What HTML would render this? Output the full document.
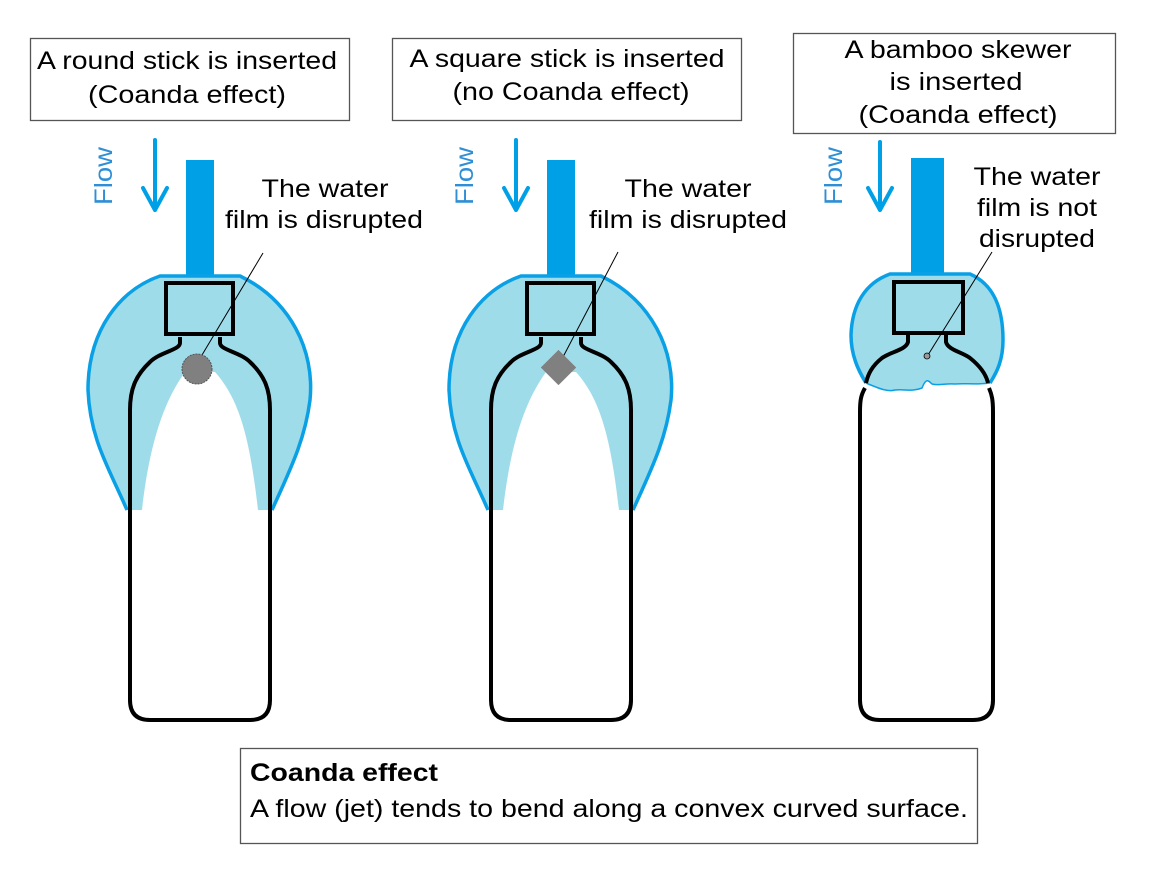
<!DOCTYPE html>
<html><head><meta charset="utf-8"><style>
html,body{margin:0;padding:0;background:#fff;}
svg{display:block;}
text{font-family:"Liberation Sans",Arial,sans-serif;}
</style></head><body>
<svg width="1155" height="869" viewBox="0 0 1155 869" xmlns="http://www.w3.org/2000/svg">
<!-- top boxes -->
<rect x="30.5" y="38.5" width="319" height="82" fill="#fff" stroke="#555" stroke-width="1.3"/>
<text x="187" y="69" font-size="25" text-anchor="middle" textLength="300" lengthAdjust="spacingAndGlyphs">A round stick is inserted</text>
<text x="187" y="103" font-size="25" text-anchor="middle" textLength="198" lengthAdjust="spacingAndGlyphs">(Coanda effect)</text>
<rect x="392.5" y="38.5" width="349" height="82" fill="#fff" stroke="#555" stroke-width="1.3"/>
<text x="567" y="67" font-size="25" text-anchor="middle" textLength="315" lengthAdjust="spacingAndGlyphs">A square stick is inserted</text>
<text x="571" y="100" font-size="25" text-anchor="middle" textLength="237" lengthAdjust="spacingAndGlyphs">(no Coanda effect)</text>
<rect x="793.5" y="33.5" width="322" height="100" fill="#fff" stroke="#555" stroke-width="1.3"/>
<text x="958" y="58" font-size="25" text-anchor="middle" textLength="227" lengthAdjust="spacingAndGlyphs">A bamboo skewer</text>
<text x="956" y="90" font-size="25" text-anchor="middle" textLength="133" lengthAdjust="spacingAndGlyphs">is inserted</text>
<text x="958" y="123" font-size="25" text-anchor="middle" textLength="199" lengthAdjust="spacingAndGlyphs">(Coanda effect)</text>

<defs>
<g id="b">
  <rect x="186" y="160" width="28" height="118" fill="#00a0e6"/>
  <path d="M160,276 L240,276 C290,300 315,350 310,400 C305,440 290,470 272,510 L258,510 C250,440 240,400 215,372 L185,372 C165,400 150,440 142,510 L127,510 C110,470 90,440 88,390 C88,330 120,290 160,276 Z" fill="#9fdcea"/>
  <path d="M127,510 C110,470 90,440 88,390 C88,330 120,290 160,276 L240,276 C290,300 315,350 310,400 C305,440 290,470 272,510" fill="none" stroke="#0aa0e6" stroke-width="3.5"/>
  <path d="M180,337 L180,343 C180,350 160,352 150,362 C135,376 130,390 130,410 L130,700 Q130,720 150,720 L250,720 Q270,720 270,700 L270,410 C270,390 265,376 250,362 C240,352 220,350 220,343 L220,337" fill="none" stroke="#000" stroke-width="4"/>
  <rect x="166" y="283" width="67" height="51" fill="none" stroke="#000" stroke-width="4"/>
  <path d="M155,140 L155,210 M143,188 L155,210 L167,188" fill="none" stroke="#00a0e6" stroke-width="4" stroke-linecap="round" stroke-linejoin="round"/>
</g>
</defs>
<use href="#b"/>
<use href="#b" transform="translate(361,0)"/>
<text transform="translate(112,176) rotate(-90)" font-size="25" fill="#2f8fd6" text-anchor="middle" textLength="58" lengthAdjust="spacingAndGlyphs">Flow</text>
<text transform="translate(473,176) rotate(-90)" font-size="25" fill="#2f8fd6" text-anchor="middle" textLength="58" lengthAdjust="spacingAndGlyphs">Flow</text>
<text transform="translate(842,176) rotate(-90)" font-size="25" fill="#2f8fd6" text-anchor="middle" textLength="58" lengthAdjust="spacingAndGlyphs">Flow</text>

<text x="325" y="197" font-size="25" text-anchor="middle" textLength="127" lengthAdjust="spacingAndGlyphs">The water</text>
<text x="324" y="228" font-size="25" text-anchor="middle" textLength="198" lengthAdjust="spacingAndGlyphs">film is disrupted</text>
<line x1="263" y1="253" x2="199" y2="360" stroke="#000" stroke-width="1"/>
<circle cx="197" cy="369" r="15" fill="#808080" stroke="#555" stroke-width="1" stroke-dasharray="2,1"/>

<text x="688" y="197" font-size="25" text-anchor="middle" textLength="127" lengthAdjust="spacingAndGlyphs">The water</text>
<text x="688" y="228" font-size="25" text-anchor="middle" textLength="198" lengthAdjust="spacingAndGlyphs">film is disrupted</text>
<line x1="618" y1="252" x2="563" y2="357" stroke="#000" stroke-width="1"/>
<rect x="546" y="355" width="25" height="25" fill="#808080" transform="rotate(45 558.5 367.5)"/>

<!-- bottle 3 -->
<rect x="911" y="158" width="33" height="118" fill="#00a0e6"/>
<path d="M890,274 L970,274 C995,285 1003,310 1003,340 C1003,360 997,372 990,383 C975,385 965,383 955,384 C945,383 940,386 932,384 C928,380 926,378 922,388 C912,392 905,389 895,390 C888,392 880,389 866,383 C858,370 851,355 851,335 C852,305 865,283 890,274 Z" fill="#9fdcea"/>
<path d="M866,383 C858,370 851,355 851,335 C852,305 865,283 890,274 L970,274 C995,285 1003,310 1003,340 C1003,360 997,372 990,383" fill="none" stroke="#0aa0e6" stroke-width="3.5"/>
<path d="M866,383 C880,389 888,392 895,390 C905,389 912,392 922,388 C926,378 928,380 932,384 C940,386 945,383 955,384 C965,383 975,385 990,383" fill="none" stroke="#0aa0e6" stroke-width="1.5"/>
<path d="M908,335 L908,342 C906,350 890,352 882,358 C872,366 868,374 866,383 M946,335 L946,342 C948,350 962,352 970,358 C980,366 986,374 988,383" fill="none" stroke="#000" stroke-width="4"/>
<path d="M865,388 C861,395 860,400 860,412 L860,700 Q860,720 880,720 L973,720 Q993,720 993,700 L993,412 C993,400 992,395 989,388" fill="none" stroke="#000" stroke-width="4"/>
<rect x="894" y="282" width="69" height="51" fill="none" stroke="#000" stroke-width="4"/>
<path d="M880,142 L880,210 M868,188 L880,210 L892,188" fill="none" stroke="#00a0e6" stroke-width="4" stroke-linecap="round" stroke-linejoin="round"/>
<text x="1037" y="185" font-size="25" text-anchor="middle" textLength="127" lengthAdjust="spacingAndGlyphs">The water</text>
<text x="1037" y="216" font-size="25" text-anchor="middle" textLength="120" lengthAdjust="spacingAndGlyphs">film is not</text>
<text x="1037" y="247" font-size="25" text-anchor="middle" textLength="116" lengthAdjust="spacingAndGlyphs">disrupted</text>
<line x1="992" y1="252" x2="928" y2="355" stroke="#000" stroke-width="1"/>
<circle cx="927" cy="356" r="3" fill="#999" stroke="#000" stroke-width="0.8"/>

<!-- bottom box -->
<rect x="240.5" y="748.5" width="737" height="95" fill="#fff" stroke="#555" stroke-width="1.3"/>
<text x="250" y="781" font-size="25" font-weight="bold" textLength="188" lengthAdjust="spacingAndGlyphs">Coanda effect</text>
<text x="250" y="817" font-size="25" textLength="718" lengthAdjust="spacingAndGlyphs">A flow (jet) tends to bend along a convex curved surface.</text>
</svg>
</body></html>
